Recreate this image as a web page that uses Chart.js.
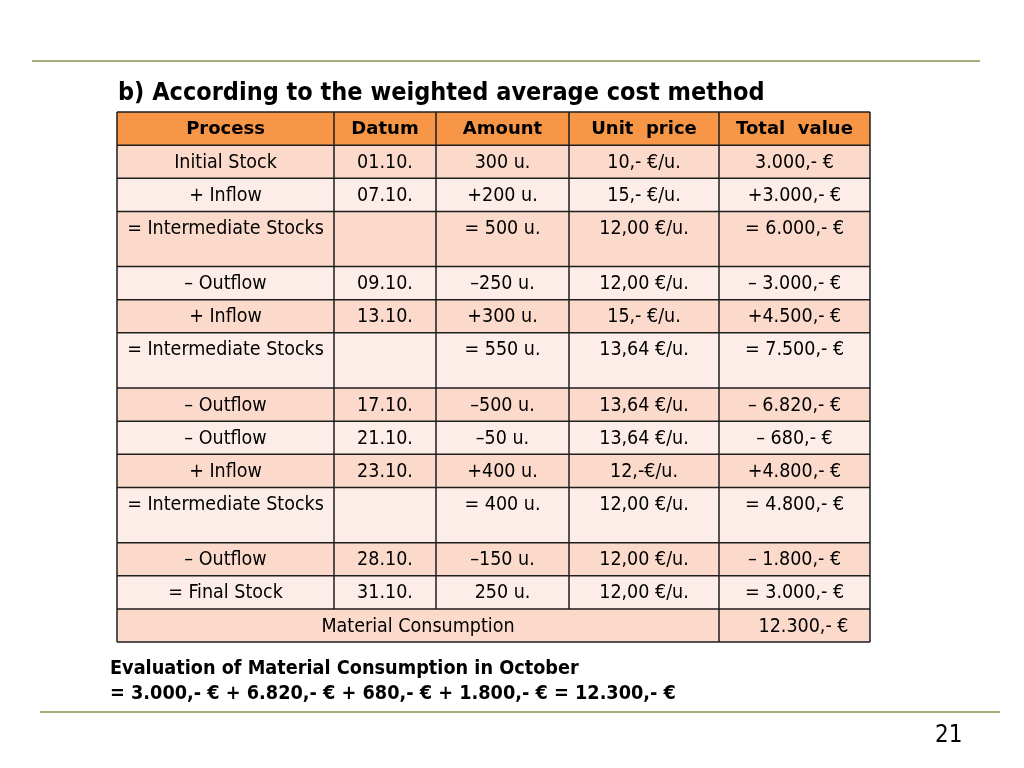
<!DOCTYPE html>
<html>
<head>
<meta charset="utf-8">
<script src="https://cdn.jsdelivr.net/npm/chart.js@4"></script>
<style>
  body { margin: 0; background: #fff; }
  #wrap { position: relative; width: 1024px; height: 768px; }
  .rule { position: absolute; height: 1.5px; background: #a7ab7c; }
  #page { position: absolute; left: 935px; top: 720px; font: 24px Tahoma, "DejaVu Sans Condensed", "DejaVu Sans", sans-serif; color: #000; }
</style>
</head>
<body>
<div id="wrap">
  <canvas id="myChart" width="1024" height="768"></canvas>
  <div class="rule" style="left:32px; top:60px; width:948px;"></div>
  <div class="rule" style="left:40px; top:711px; width:960px;"></div>
  <div id="page">21</div>
</div>
<script>
const title = "b) According to the weighted average cost method";
const headers = ["Process", "Datum", "Amount", "Unit  price", "Total  value"];
const processes = ["Initial Stock", "+ Inflow", "= Intermediate Stocks", "\u2013 Outflow", "+ Inflow", "= Intermediate Stocks",
  "\u2013 Outflow", "\u2013 Outflow", "+ Inflow", "= Intermediate Stocks", "\u2013 Outflow", "= Final Stock"];
const dates = ["01.10.", "07.10.", "", "09.10.", "13.10.", "", "17.10.", "21.10.", "23.10.", "", "28.10.", "31.10."];
const amounts = ["300 u.", "+200 u.", "= 500 u.", "\u2013250 u.", "+300 u.", "= 550 u.",
  "\u2013500 u.", "\u201350 u.", "+400 u.", "= 400 u.", "\u2013150 u.", "250 u."];
const unitPrices = ["10,- \u20ac/u.", "15,- \u20ac/u.", "12,00 \u20ac/u.", "12,00 \u20ac/u.", "15,- \u20ac/u.", "13,64 \u20ac/u.",
  "13,64 \u20ac/u.", "13,64 \u20ac/u.", "12,-\u20ac/u.", "12,00 \u20ac/u.", "12,00 \u20ac/u.", "12,00 \u20ac/u."];
const totalValues = ["3.000,- \u20ac", "+3.000,- \u20ac", "= 6.000,- \u20ac", "\u2013 3.000,- \u20ac", "+4.500,- \u20ac", "= 7.500,- \u20ac",
  "\u2013 6.820,- \u20ac", "\u2013 680,- \u20ac", "+4.800,- \u20ac", "= 4.800,- \u20ac", "\u2013 1.800,- \u20ac", "= 3.000,- \u20ac"];
const consumptionLabel = "Material Consumption";
const consumptionValue = "12.300,- \u20ac";
const footerLines = ["Evaluation of Material Consumption in October",
  "= 3.000,- \u20ac + 6.820,- \u20ac + 680,- \u20ac + 1.800,- \u20ac = 12.300,- \u20ac"];

// layout of the grid in table units
const colWidths = [217, 102, 133, 150, 151];
const tallRow = 55 / 33;
const rowHeights = [1].concat(processes.map(p => p.indexOf('Intermediate') >= 0 ? tallRow : 1), [1]);
const totalW = colWidths.reduce((a, b) => a + b, 0);
const totalH = rowHeights.reduce((a, b) => a + b, 0);

const headFont = 'bold 18px "DejaVu Sans", sans-serif';
const cellFont = '19.5px "DejaVu Sans Condensed", "DejaVu Sans", sans-serif';

const tablePlugin = {
  id: 'tablePlugin',
  afterDraw(chart) {
    const ctx = chart.ctx;
    const xs = chart.scales.x, ys = chart.scales.y;
    const colEdges = [0];
    colWidths.forEach(w => colEdges.push(colEdges[colEdges.length - 1] + w));
    const rowEdges = [0];
    rowHeights.forEach(h => rowEdges.push(rowEdges[rowEdges.length - 1] + h));
    const px = v => xs.getPixelForValue(v);
    const py = v => ys.getPixelForValue(v);
    const rows = [headers].concat(processes.map((p, i) => [p, dates[i], amounts[i], unitPrices[i], totalValues[i]]));
    ctx.save();

    // backgrounds
    for (let r = 0; r < rowHeights.length; r++) {
      ctx.fillStyle = r === 0 ? '#f79646' : (r % 2 === 1 ? '#fbdacb' : '#fdede8');
      ctx.fillRect(px(0), py(rowEdges[r]), px(totalW) - px(0), py(rowEdges[r + 1]) - py(rowEdges[r]));
    }

    // grid lines
    ctx.strokeStyle = '#1e1e1e';
    ctx.lineWidth = 1.5;
    ctx.beginPath();
    rowEdges.forEach(e => { ctx.moveTo(px(0), py(e)); ctx.lineTo(px(totalW), py(e)); });
    const last = rowEdges.length - 2;
    colEdges.forEach((e, c) => {
      ctx.moveTo(px(e), py(0));
      const skipLast = c > 0 && c < colEdges.length - 2;
      ctx.lineTo(px(e), py(skipLast ? rowEdges[last] : totalH));
    });
    ctx.stroke();

    // texts
    ctx.fillStyle = '#000';
    ctx.textAlign = 'center';
    ctx.textBaseline = 'middle';
    rows.forEach((cells, r) => {
      ctx.font = r === 0 ? headFont : cellFont;
      const y = py(rowEdges[r] + 0.5) + 1;
      cells.forEach((t, c) => {
        if (t) ctx.fillText(t, (px(colEdges[c]) + px(colEdges[c + 1])) / 2, y);
      });
    });
    ctx.font = cellFont;
    const yc = py(rowEdges[last] + 0.5) + 1;
    ctx.fillText(consumptionLabel, (px(0) + px(colEdges[4])) / 2, yc);
    ctx.fillText(consumptionValue, (px(colEdges[4]) + px(totalW)) / 2 + 9, yc);

    // title and note
    ctx.textAlign = 'left';
    ctx.textBaseline = 'alphabetic';
    ctx.font = 'bold 25px "DejaVu Sans Condensed", "DejaVu Sans", sans-serif';
    ctx.fillText(title, px(0) + 1, py(0) - 12);
    ctx.font = 'bold 19.7px "DejaVu Sans Condensed", "DejaVu Sans", sans-serif';
    ctx.fillText(footerLines[0], px(0) - 7, py(totalH) + 32);
    ctx.fillText(footerLines[1], px(0) - 7, py(totalH) + 57);
    ctx.restore();
  }
};

const ctx = document.getElementById('myChart').getContext('2d');
const myChart = new Chart(ctx, {
  type: 'bar',
  data: { labels: [], datasets: [] },
  options: {
    responsive: false,
    animation: false,
    layout: { padding: { left: 117, right: 154, top: 112, bottom: 126 } },
    plugins: { legend: { display: false }, tooltip: { enabled: false } },
    scales: {
      x: { type: 'linear', min: 0, max: totalW, offset: false, display: false },
      y: { type: 'linear', min: 0, max: totalH, offset: false, reverse: true, display: false }
    }
  },
  plugins: [tablePlugin]
});
</script>
</body>
</html>
